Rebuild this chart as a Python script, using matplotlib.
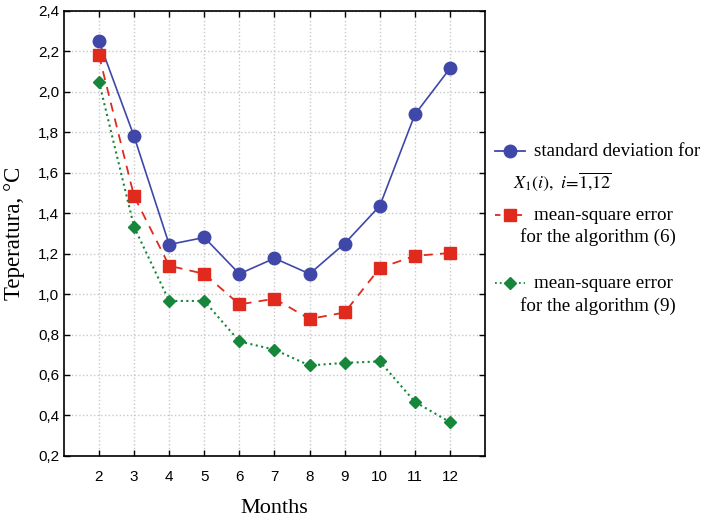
import matplotlib
matplotlib.use("Agg")
import matplotlib.pyplot as plt
from matplotlib.lines import Line2D
from matplotlib.ticker import FuncFormatter

months = [2, 3, 4, 5, 6, 7, 8, 9, 10, 11, 12]
std_dev = [2.25, 1.78, 1.245, 1.28, 1.10, 1.177, 1.10, 1.25, 1.436, 1.888, 2.116]
mse_alg6 = [2.18, 1.484, 1.14, 1.10, 0.949, 0.977, 0.877, 0.909, 1.129, 1.189, 1.203]
mse_alg9 = [2.05, 1.332, 0.966, 0.966, 0.766, 0.725, 0.647, 0.66, 0.667, 0.467, 0.367]
yticks = [0.2, 0.4, 0.6, 0.8, 1.0, 1.2, 1.4, 1.6, 1.8, 2.0, 2.2, 2.4]

plt.rcParams['mathtext.fontset'] = 'stix'
serif = 'Liberation Serif'
sans = 'Liberation Sans'

blue = '#3f48a8'
red = '#e02a1e'
green = '#16873a'

fig = plt.figure(figsize=(7.02, 5.21), dpi=100)
ax = fig.add_axes([0.091, 0.125, 0.600, 0.854])

ax.plot(months, std_dev, '-', color=blue, lw=1.2, marker='o', ms=9, mfc=blue, mec=blue, zorder=3)
ax.plot(months, mse_alg6, '--', color=red, lw=1.3, dashes=(5, 4), marker='s', ms=9, mfc=red, mec=red, zorder=3)
ax.plot(months, mse_alg9, ':', color=green, lw=1.5, marker='D', ms=6.5, mfc=green, mec=green, zorder=3)

ax.set_xlim(1, 13)
ax.set_ylim(0.2, 2.4)
ax.set_xticks(months)
ax.set_yticks(yticks)
ax.yaxis.set_major_formatter(FuncFormatter(lambda v, p: f"{v:.1f}".replace('.', ',')))
ax.grid(True, color='#c8c8c8', linestyle=':', linewidth=1.0)
ax.tick_params(direction='in', top=True, right=True, length=4, width=1, labelsize=11)
for lab in ax.get_xticklabels() + ax.get_yticklabels():
    lab.set_fontfamily(sans)
ax.tick_params(axis='x', pad=10)
for sp in ax.spines.values():
    sp.set_linewidth(1.2)

ax.set_xlabel('Months', fontfamily=serif, fontsize=16, labelpad=11)
ax.set_ylabel('Teperatura, °C', fontfamily=serif, fontsize=16.5, labelpad=9)

# legend drawn in figure coordinates
W, H = 702.0, 521.0
def fx(px): return px / W
def fy(py): return 1 - py / H

entries = [
    (151, 31, blue, '-', (None, None), 'o', 9,
     ['standard deviation for', r'$X_1(i),\ i\!=\!\overline{1{,}12}$'], [534, 513], [13.7, 13.0]),
    (215, 22, red, '--', (3, 3), 's', 9,
     ['mean-square error', 'for the algorithm (6)'], [534, 520], [13.7, 13.7]),
    (283, 23, green, ':', (None, None), 'D', 6.5,
     ['mean-square error', 'for the algorithm (9)'], [534, 520], [13.7, 13.7]),
]
for y, dy, c, ls, dsh, mk, ms, lines, xs, fss in entries:
    ln = Line2D([fx(495), fx(525)], [fy(y), fy(y)], color=c, linestyle=ls, lw=1.3,
                transform=fig.transFigure)
    if dsh[0] is not None:
        ln.set_dashes(dsh)
    fig.add_artist(ln)
    mkr = Line2D([fx(510)], [fy(y)], color=c, marker=mk, ms=ms, mfc=c, mec=c,
                 linestyle='none', transform=fig.transFigure)
    fig.add_artist(mkr)
    for i, (t, x0, fs) in enumerate(zip(lines, xs, fss)):
        fig.text(fx(x0), fy(y + i * dy), t, fontfamily=serif, fontsize=fs,
                 va='center', ha='left')

fig.savefig('out.png', dpi=100)
